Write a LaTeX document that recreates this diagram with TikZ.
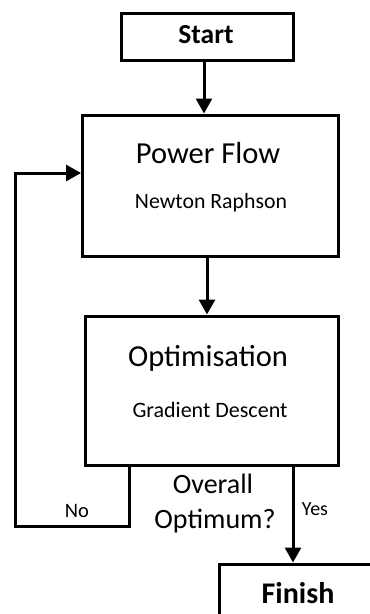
\documentclass[tikz,border=0pt]{standalone}
\usepackage{fontspec}
\setmainfont{Carlito}
\usetikzlibrary{arrows.meta}
\newcommand{\fs}[1]{\fontsize{#1}{#1}\selectfont}
\begin{document}
\begin{tikzpicture}[x=1pt,y=-1pt,
  box/.style={draw,line width=3pt,inner sep=0pt,rectangle},
  arr/.style={line width=3pt,-{Triangle[length=15pt,width=16pt]}},
  lbl/.style={inner sep=0pt,anchor=base}]
\useasboundingbox (0,0) rectangle (370,614);
\clip (0,0) rectangle (370,614);
% boxes
\node[box,minimum width=172pt,minimum height=47pt] (start) at (207.5,37) {};
\node[box,minimum width=256pt,minimum height=141pt] (pf) at (210.5,185.5) {};
\node[box,minimum width=253pt,minimum height=149pt] (opt) at (212,390.5) {};
\node[box,minimum width=158pt,minimum height=54pt] (fin) at (298,591) {};
% texts
\node[lbl] (tstart) at (206,43) {\fs{27.5}\bfseries Start};
\node[lbl] (tpf) at (208,163) {\fs{30.5}Power Flow};
\node[lbl] (tnr) at (211,208) {\fs{21.8}Newton Raphson};
\node[lbl] (topt) at (208,366) {\fs{30.5}Optimisation};
\node[lbl] (tgd) at (210,417) {\fs{22}Gradient Descent};
\node[lbl] (tov) at (213,493) {\fs{28}Overall};
\node[lbl] (top) at (215,528) {\fs{28}Optimum?};
\node[lbl] (tno) at (77,517) {\fs{20.5}No};
\node[lbl] (tyes) at (315,515) {\fs{20}Yes};
\node[lbl] (tfin) at (298,603) {\fs{30}\bfseries Finish};
% connector coordinates
\coordinate (xa) at (204,0);
\coordinate (xb) at (207,0);
\coordinate (xno) at (129.5,0);
\coordinate (xyes) at (293,0);
\coordinate (c1) at (15,526);
\coordinate (c2) at (15,173);
% connectors
\draw[arr] (start.south -| xa) -- (pf.north -| xa);
\draw[arr] (pf.south -| xb) -- (opt.north -| xb);
\draw[arr] (opt.south -| xno) -- (xno |- c1) -- (c1) -- (c2) -- (pf.west |- c2);
\draw[arr] (opt.south -| xyes) -- (fin.north -| xyes);
\end{tikzpicture}
\end{document}
